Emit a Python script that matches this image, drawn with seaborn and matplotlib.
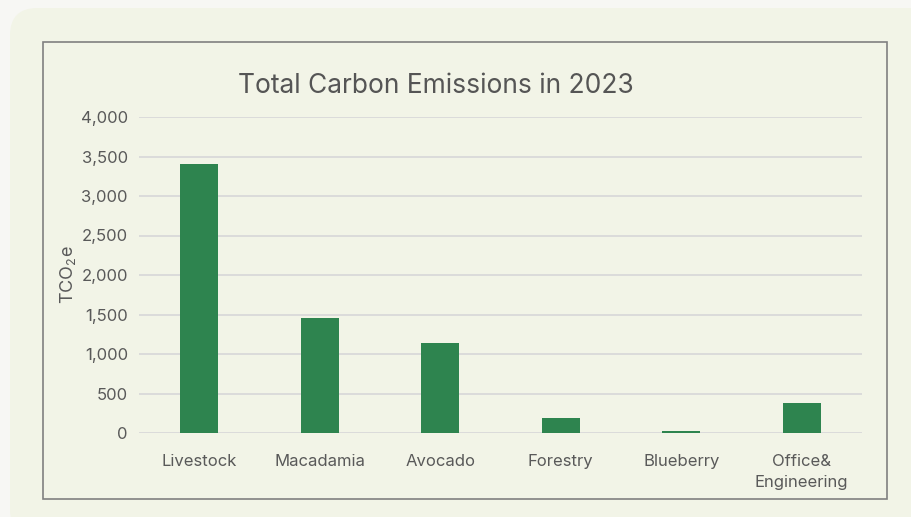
import matplotlib
matplotlib.use("Agg")
import matplotlib.pyplot as plt
import seaborn as sns
import pandas as pd
from matplotlib.patches import FancyBboxPatch, Rectangle

categories = ["Livestock", "Macadamia", "Avocado", "Forestry", "Blueberry", "Office&\nEngineering"]
emissions = [3400, 1460, 1140, 190, 28, 375]
y_ticks = [0, 500, 1000, 1500, 2000, 2500, 3000, 3500, 4000]
y_tick_labels = ["0", "500", "1,000", "1,500", "2,000", "2,500", "3,000", "3,500", "4,000"]
title = "Total Carbon Emissions in 2023"
y_label = "TCO$_\\mathregular{2}$e"

df = pd.DataFrame({"category": categories, "value": emissions})

sns.set_theme(style="white")
plt.rcParams["font.family"] = ["Inter", "DejaVu Sans"]

W, H = 912, 517
fig = plt.figure(figsize=(W / 100, H / 100), dpi=100)
fig.patch.set_facecolor("#f7f7f4")

panel_bg = "#f2f4e7"
panel = FancyBboxPatch((10 / W, 0.0 - 20 / H), (W + 30 - 10) / W, (H - 8 + 20) / H,
                       boxstyle="round,pad=0,rounding_size=0.03",
                       transform=fig.transFigure, facecolor=panel_bg,
                       edgecolor="none", zorder=-3, mutation_aspect=W / H)
fig.patches.append(panel)
border = Rectangle((43 / W, (H - 499) / H), (887 - 43) / W, (499 - 42) / H,
                   transform=fig.transFigure, facecolor="none",
                   edgecolor="#808080", linewidth=1.2, zorder=-2)
fig.patches.append(border)

ax = fig.add_axes([139 / W, (H - 433) / H, (862 - 139) / W, (433 - 117) / H])
ax.set_facecolor("none")
ax.set_zorder(1)

sns.barplot(data=df, x="category", y="value", color="#2e844f", width=0.315,
            saturation=1, linewidth=0, ax=ax, zorder=3)

ax.set_ylim(0, 4000)
ax.set_xlim(-0.5, len(categories) - 0.5)
ax.set_yticks(y_ticks)
ax.set_yticklabels(y_tick_labels)
ax.yaxis.grid(True, color="#d9d9d9", linewidth=1.3, zorder=0)
ax.set_axisbelow(True)
for s in ax.spines.values():
    s.set_visible(False)
ax.tick_params(axis="both", length=0, labelsize=12, colors="#595959")
ax.tick_params(axis="y", pad=8)
ax.tick_params(axis="x", pad=15)
for lbl in ax.get_xticklabels():
    lbl.set_linespacing(1.55)
    lbl.set_verticalalignment("top")
ax.set_xlabel("")
ax.set_ylabel(y_label, fontsize=13, color="#595959")
ax.yaxis.set_label_coords(-0.085, 0.5)

fig.text(436 / W, (H - 86) / H, title, ha="center", va="center",
         fontsize=19, color="#555555")

fig.savefig("out.png", dpi=100)
